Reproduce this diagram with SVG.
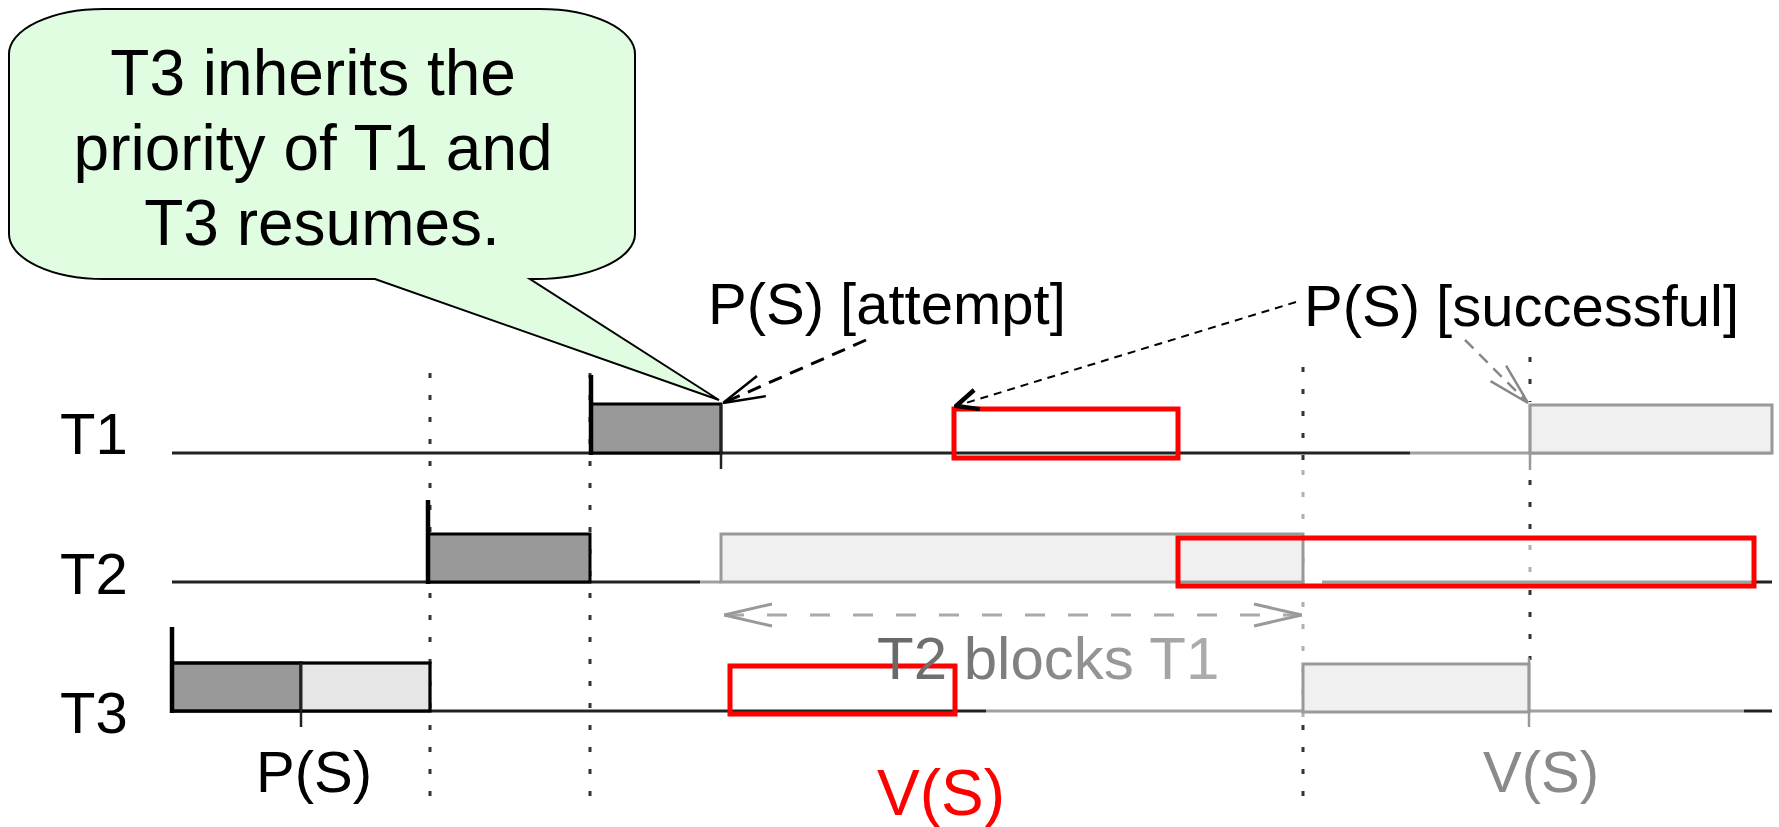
<svg xmlns="http://www.w3.org/2000/svg" width="1779" height="827" viewBox="0 0 1779 827">
  <style>
    text { font-family: "Liberation Sans", Arial, sans-serif; }
    .lbl { font-size: 58px; fill: #000; }
    .dim { fill: #8a8a8a; }
    .axis { stroke: #222; stroke-width: 3; fill: none; }
    .axis-dim { stroke: #a0a0a0; stroke-width: 3; fill: none; }
    .run { fill: #999; stroke: #000; stroke-width: 3; }
    .wait { fill: #e6e6e6; stroke: #000; stroke-width: 2.5; }
    .ghost { fill: #f0f0f0; stroke: #999; stroke-width: 3; }
    .start { stroke: #000; stroke-width: 4.5; }
    .tick { stroke: #222; stroke-width: 2.5; }
    .tick-dim { stroke: #999; stroke-width: 2.5; }
    .sync { stroke: #333; stroke-width: 3; stroke-dasharray: 5 17; fill: none; }
    .sync-dim { stroke: #b0b0b0; stroke-width: 3; stroke-dasharray: 5 17; fill: none; }
    .mark { fill: none; stroke: #ff0000; stroke-width: 5; }
  </style>
  <defs>
    <marker id="head-black" viewBox="0 0 44 26" refX="44" refY="13" markerWidth="44" markerHeight="26" markerUnits="userSpaceOnUse" orient="auto">
      <path d="M2,2 L44,13 L2,24" fill="none" stroke="#000" stroke-width="2.5"/>
    </marker>
    <marker id="head-bold" viewBox="0 0 28 24" refX="26" refY="12" markerWidth="28" markerHeight="24" markerUnits="userSpaceOnUse" orient="auto">
      <path d="M4,2 L26,12 L4,22" fill="none" stroke="#000" stroke-width="4.5"/>
    </marker>
    <marker id="head-grey" viewBox="0 0 44 26" refX="44" refY="13" markerWidth="44" markerHeight="26" markerUnits="userSpaceOnUse" orient="auto">
      <path d="M2,2 L44,13 L2,24" fill="none" stroke="#888" stroke-width="2.5"/>
    </marker>
    <marker id="head-span" viewBox="0 0 50 26" refX="50" refY="13" markerWidth="50" markerHeight="26" markerUnits="userSpaceOnUse" orient="auto-start-reverse">
      <path d="M2,2 L50,13 L2,24" fill="none" stroke="#999" stroke-width="3"/>
    </marker>
    <linearGradient id="fade" x1="877" y1="0" x2="1195" y2="0" gradientUnits="userSpaceOnUse">
      <stop offset="0" stop-color="#666"/>
      <stop offset="0.35" stop-color="#7a7a7a"/>
      <stop offset="1" stop-color="#ababab"/>
    </linearGradient>
  </defs>

  <rect width="1779" height="827" fill="#fff"/>

  <!-- synchronisation instants -->
  <g id="sync-lines">
    <line class="sync" x1="430" y1="373" x2="430" y2="805"/>
    <line class="sync" x1="590" y1="373" x2="590" y2="805"/>
    <line class="sync" x1="1303" y1="367" x2="1303" y2="470"/>
    <line class="sync-dim" x1="1303" y1="470" x2="1303" y2="725"/>
    <line class="sync" x1="1303" y1="725" x2="1303" y2="805"/>
    <line class="sync" x1="1530" y1="357" x2="1530" y2="402"/>
    <line class="sync" x1="1530" y1="480" x2="1530" y2="540"/>
    <line class="sync-dim" x1="1530" y1="545" x2="1530" y2="582"/>
    <line class="sync" x1="1530" y1="590" x2="1530" y2="660"/>
  </g>

  <!-- task T1 -->
  <g id="task-t1">
    <text class="lbl" x="60" y="454">T1</text>
    <line class="axis" x1="172" y1="453" x2="1410" y2="453"/>
    <line class="axis-dim" x1="1410" y1="453" x2="1772" y2="453"/>
    <rect class="run" x="591" y="404" width="130" height="49"/>
    <line class="start" x1="591" y1="375" x2="591" y2="455"/>
    <line class="tick" x1="721" y1="404" x2="721" y2="469"/>
    <rect class="ghost" x="1530" y="405" width="242" height="48"/>
    <line class="tick-dim" x1="1530" y1="405" x2="1530" y2="470"/>
  </g>

  <!-- task T2 -->
  <g id="task-t2">
    <text class="lbl" x="60" y="594">T2</text>
    <line class="axis" x1="172" y1="582" x2="700" y2="582"/>
    <line class="axis-dim" x1="700" y1="582" x2="721" y2="582"/>
    <line class="axis-dim" x1="1322" y1="582" x2="1756" y2="582"/>
    <line class="axis" x1="1754" y1="582" x2="1772" y2="582"/>
    <rect class="run" x="428" y="534" width="162" height="48"/>
    <line class="start" x1="428" y1="500" x2="428" y2="584"/>
    <rect class="ghost" x="721" y="534" width="582" height="48"/>
  </g>

  <!-- task T3 -->
  <g id="task-t3">
    <text class="lbl" x="60" y="733">T3</text>
    <line class="axis" x1="172" y1="711" x2="986" y2="711"/>
    <line class="axis-dim" x1="986" y1="711" x2="1744" y2="711"/>
    <line class="axis" x1="1744" y1="711" x2="1772" y2="711"/>
    <rect class="run" x="172" y="663" width="129" height="48"/>
    <rect class="wait" x="301" y="663" width="129" height="48"/>
    <rect x="172" y="663" width="258" height="48" fill="none" stroke="#000" stroke-width="3"/>
    <line class="start" x1="172" y1="627" x2="172" y2="713"/>
    <line class="tick" x1="301" y1="663" x2="301" y2="727"/>
    <rect class="ghost" x="1303" y="664" width="226" height="48"/>
    <line class="tick-dim" x1="1529" y1="658" x2="1529" y2="727"/>
    <text class="lbl" x="256" y="792">P(S)</text>
    <text class="lbl dim" x="1483" y="792">V(S)</text>
  </g>

  <!-- highlighted intervals -->
  <g id="highlights">
    <rect class="mark" x="954" y="409" width="224" height="49"/>
    <rect class="mark" x="1178" y="538" width="576" height="48" fill="#fff" fill-opacity="0.5"/>
    <rect class="mark" x="730" y="666" width="225" height="48"/>
    <text x="877" y="815" font-size="64" fill="#ff0000">V(S)</text>
  </g>

  <!-- blocking span -->
  <g id="blocking">
    <text x="877" y="679" font-size="60" fill="url(#fade)">T2 blocks T1</text>
  </g>

  <!-- callout -->
  <g id="callout">
    <path d="M104,9 H540 A95,45 0 0 1 635,54 V234 A100,45 0 0 1 530,279 L719,400 L375,279 H104 A95,45 0 0 1 9,234 V54 A95,45 0 0 1 104,9 Z" fill="#e1fde1" stroke="#000" stroke-width="2"/>
    <text font-size="64" text-anchor="middle" fill="#000">
      <tspan x="322" y="95">T3 inherits the</tspan>
      <tspan x="322" y="170">priority of T1 and</tspan>
      <tspan x="322" y="245">T3 resumes.</tspan>
    </text>
  </g>

  <!-- event labels -->
  <g id="label-attempt">
    <text class="lbl" x="708" y="324">P(S) [attempt]</text>
  </g>
  <g id="label-successful">
    <text class="lbl" x="1304" y="326">P(S) [successful]</text>
  </g>

  <!-- connectors -->
  <g id="connectors">
    <line x1="866" y1="340" x2="723" y2="403" stroke="#000" stroke-width="3" stroke-dasharray="14 9" marker-end="url(#head-black)"/>
    <line x1="1296" y1="302" x2="956" y2="406" stroke="#000" stroke-width="2" stroke-dasharray="8 6" marker-end="url(#head-bold)"/>
    <line x1="1465" y1="340" x2="1528" y2="403" stroke="#888" stroke-width="2.5" stroke-dasharray="12 8" marker-end="url(#head-grey)"/>
    <line x1="724" y1="615" x2="1302" y2="615" stroke="#aaa" stroke-width="3" stroke-dasharray="20 23" marker-start="url(#head-span)" marker-end="url(#head-span)"/>
  </g>
</svg>
